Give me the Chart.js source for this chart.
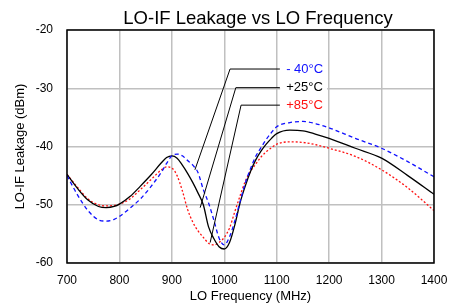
<!DOCTYPE html>
<html>
<head>
<meta charset="utf-8">
<script src="https://cdn.jsdelivr.net/npm/chart.js@4"></script>
<style>
  html, body { margin: 0; padding: 0; background: #fff; }
  #wrap { width: 459px; height: 304px; }
</style>
</head>
<body>
<div id="wrap"><canvas id="c"></canvas></div>
<script>
const FONT = "'Liberation Sans', Arial, sans-serif";
const TITLE = "LO-IF Leakage vs LO Frequency";

// LO frequency (MHz)
const freq = [700, 720, 740, 760, 775, 790, 800, 820, 840, 860, 880, 890, 900, 910, 920, 930, 940, 950, 960, 970,
  980, 990, 1000, 1010, 1020, 1030, 1040, 1050, 1060, 1070, 1080, 1090, 1100, 1125, 1150, 1175, 1200, 1250, 1300, 1350, 1400];

// LO-IF leakage (dBm)
const leakM40 = [-45.0, -48.3, -51.0, -52.6, -52.8, -52.5, -52.0, -50.6, -49.0, -46.9, -44.4, -42.9, -41.6, -41.3, -41.6, -42.4, -43.2, -44.5, -47.4, -49.7,
  -52.6, -55.7, -56.9, -55.5, -52.8, -49.5, -46.3, -43.8, -41.7, -40.2, -38.8, -37.6, -36.6, -35.9, -35.7, -36.1, -36.8, -38.6, -40.3, -42.6, -45.2];
const leak25 = [-44.8, -47.2, -49.2, -50.3, -50.5, -50.3, -49.9, -48.6, -46.8, -44.9, -42.8, -41.9, -41.6, -42.0, -43.2, -44.6, -46.2, -48.0, -50.0, -53.8,
  -55.8, -57.2, -57.6, -56.5, -53.5, -49.7, -46.8, -44.3, -42.3, -40.8, -39.6, -38.6, -37.8, -37.2, -37.3, -37.9, -38.6, -40.3, -42.0, -45.0, -48.2];
const leak85 = [-44.8, -47.0, -49.0, -50.0, -50.2, -50.1, -49.9, -49.0, -47.4, -45.7, -44.0, -43.5, -43.7, -45.0, -47.6, -50.8, -53.0, -54.5, -55.6, -56.6,
  -56.9, -56.5, -55.6, -54.0, -51.2, -48.5, -46.0, -44.3, -43.0, -41.8, -40.9, -40.2, -39.6, -39.2, -39.3, -39.7, -40.3, -41.7, -44.0, -47.1, -51.0];

const xTicks = [700, 800, 900, 1000, 1100, 1200, 1300, 1400];
const yTicks = [-60, -50, -40, -30, -20];

// callout labels: text, elbow point, end point on curve (data units)
const calloutText = ["- 40\u00b0C", "+25\u00b0C", "+85\u00b0C"];
const calloutElbow = [[1011, -26.7], [1022, -29.9], [1032, -32.9]];
const calloutTip = [[944, -44.0], [954, -50.5], [973, -56.5]];
const calloutEndX = 1106;
const calloutTextX = 1118;

const pts = (ys) => freq.map((f, i) => ({ x: f, y: ys[i] }));

const decor = {
  id: "decor",
  afterDraw(chart) {
    const { ctx, chartArea: a, scales } = chart;
    ctx.save();

    // title, centred a little right of the canvas middle as in the original
    ctx.fillStyle = "#000";
    ctx.font = "18.5px " + FONT;
    ctx.textAlign = "center";
    ctx.textBaseline = "alphabetic";
    ctx.fillText(TITLE, 258, 24);

    ctx.strokeStyle = "#000";
    ctx.lineWidth = 1.5;
    ctx.strokeRect(a.left, a.top, a.right - a.left, a.bottom - a.top);

    // callouts
    const colors = chart.data.datasets.map((d) => d.borderColor);
    ctx.font = "13px " + FONT;
    ctx.textAlign = "left";
    ctx.textBaseline = "middle";
    const tx = scales.x.getPixelForValue(calloutTextX);
    const ys = calloutElbow.map((p) => scales.y.getPixelForValue(p[1]));
    const w = Math.max(...calloutText.map((t) => ctx.measureText(t).width));
    ctx.fillStyle = "#fff";
    ctx.fillRect(tx - 6, ys[0] - 10, w + 10, ys[2] - ys[0] + 20);
    ctx.lineWidth = 1;
    calloutText.forEach((t, i) => {
      const ex = scales.x.getPixelForValue(calloutElbow[i][0]);
      ctx.strokeStyle = "#000";
      ctx.beginPath();
      ctx.moveTo(scales.x.getPixelForValue(calloutTip[i][0]), scales.y.getPixelForValue(calloutTip[i][1]));
      ctx.lineTo(ex, ys[i]);
      ctx.lineTo(scales.x.getPixelForValue(calloutEndX), ys[i]);
      ctx.stroke();
      ctx.fillStyle = colors[i];
      ctx.fillText(t, tx, ys[i]);
    });
    ctx.restore();
  },
};

new Chart(document.getElementById("c").getContext("2d"), {
  type: "line",
  data: {
    datasets: [
      { label: "-40°C", data: pts(leakM40), borderColor: "#1010ff", borderWidth: 1.3, borderDash: [4, 3] },
      { label: "+25°C", data: pts(leak25), borderColor: "#000000", borderWidth: 1.3 },
      { label: "+85°C", data: pts(leak85), borderColor: "#ff1010", borderWidth: 1.3, borderDash: [2, 2] },
    ],
  },
  options: {
    responsive: true,
    maintainAspectRatio: false,
    animation: false,
    layout: { padding: { left: 0, right: 25, top: 30, bottom: 0 } },
    elements: {
      point: { radius: 0 },
      line: { cubicInterpolationMode: "monotone", fill: false },
    },
    plugins: {
      legend: { display: false },
      tooltip: { enabled: false },
      title: { display: false },
    },
    scales: {
      x: {
        type: "linear",
        min: 700,
        max: 1400,
        afterBuildTicks: (s) => { s.ticks = xTicks.map((v) => ({ value: v })); },
        afterFit: (s) => { s.height = 41; },
        grid: { color: "#c0c0c0", lineWidth: 1.5, drawTicks: false },
        border: { display: false },
        ticks: {
          color: "#000",
          padding: 10,
          maxRotation: 0,
          font: { family: FONT, size: 12 },
          callback: (v) => String(v),
        },
        title: {
          display: true,
          text: "LO Frequency (MHz)",
          color: "#000",
          font: { family: FONT, size: 13 },
          padding: { top: 0, bottom: 0 },
        },
      },
      y: {
        min: -60,
        max: -20,
        afterBuildTicks: (s) => { s.ticks = yTicks.map((v) => ({ value: v })); },
        afterFit: (s) => { s.width = 67; },
        grid: { color: "#c0c0c0", lineWidth: 1.5, drawTicks: false },
        border: { display: false },
        ticks: { color: "#000", padding: 14, font: { family: FONT, size: 12 } },
        title: {
          display: true,
          text: "LO-IF Leakage (dBm)",
          color: "#000",
          font: { family: FONT, size: 13 },
          padding: { top: 13, bottom: 0 },
        },
      },
    },
  },
  plugins: [decor],
});
</script>
</body>
</html>
